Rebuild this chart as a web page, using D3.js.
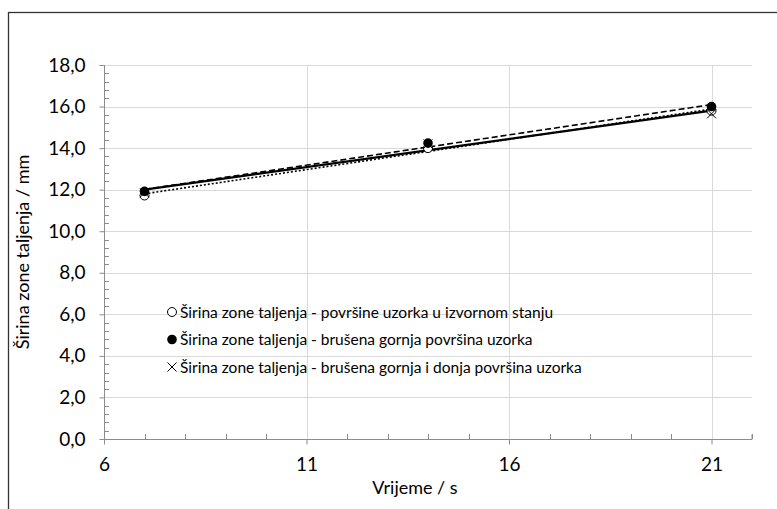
<!DOCTYPE html>
<html>
<head>
<meta charset="utf-8">
<script src="https://cdn.jsdelivr.net/npm/d3@7"></script>
<style>
  body { margin: 0; background: #fff; }
  text { font-family: Lato, "Open Sans", sans-serif; fill: #000; }
</style>
</head>
<body>
<div id="container"></div>
<script>
/* CONSTANTS AND GLOBALS */
const width = 777;
const height = 509;

/* DATA */
const times = [7, 14, 21];
const seriesNames = [
  "Širina zone taljenja - površine uzorka u izvornom stanju",
  "Širina zone taljenja - brušena gornja površina uzorka",
  "Širina zone taljenja - brušena gornja i donja površina uzorka"
];
const openVals = [11.72, 14.0, 15.8];
const filledVals = [11.92, 14.24, 16.0];
const crossVals = [11.85, 14.2, 15.65];
const xTicks = [6, 11, 16, 21];
const yTicks = [0, 2, 4, 6, 8, 10, 12, 14, 16, 18];

const series = [
  { name: seriesNames[0], values: openVals, marker: "open", trend: "2,2" },
  { name: seriesNames[1], values: filledVals, marker: "filled", trend: "6,3" },
  { name: seriesNames[2], values: crossVals, marker: "cross", trend: null }
];

/* SVG */
const svg = d3.select("#container")
  .append("svg")
  .attr("width", width)
  .attr("height", height);

// outer frame
svg.append("rect")
  .attr("x", 8.5).attr("y", 12.5)
  .attr("width", width + 10).attr("height", height + 10)
  .attr("fill", "none").attr("stroke", "#333").attr("stroke-width", 1.3);

/* SCALES */
const xScale = d3.scaleLinear().domain([6, 22]).range([104, 752]);
const yScale = d3.scaleLinear().domain([0, 18]).range([439, 65]);

// gridlines
svg.append("g").selectAll("line.hg")
  .data(yTicks.filter(d => d > 0))
  .join("line")
  .attr("x1", xScale(6)).attr("x2", xScale(22))
  .attr("y1", d => Math.round(yScale(d)) + 0.5).attr("y2", d => Math.round(yScale(d)) + 0.5)
  .attr("stroke", "#d9d9d9");

svg.append("g").selectAll("line.vg")
  .data(xTicks.filter(d => d > 6))
  .join("line")
  .attr("x1", d => Math.round(xScale(d)) + 0.5).attr("x2", d => Math.round(xScale(d)) + 0.5)
  .attr("y1", yScale(0)).attr("y2", yScale(18))
  .attr("stroke", "#d9d9d9");

/* AXES */
const axisColor = "#8c8c8c";

// minor ticks
const yMinor = d3.range(0, 18.01, 0.4).filter(d => Math.abs(d / 2 - Math.round(d / 2)) > 0.01);
svg.append("g").selectAll("line")
  .data(yMinor)
  .join("line")
  .attr("x1", xScale(6)).attr("x2", xScale(6) + 5)
  .attr("y1", d => Math.round(yScale(d)) + 0.5).attr("y2", d => Math.round(yScale(d)) + 0.5)
  .attr("stroke", axisColor);

const xMinor = d3.range(7, 22.01, 1).filter(d => !xTicks.includes(d));
svg.append("g").selectAll("line")
  .data(xMinor)
  .join("line")
  .attr("x1", d => Math.round(xScale(d)) + 0.5).attr("x2", d => Math.round(xScale(d)) + 0.5)
  .attr("y1", yScale(0)).attr("y2", yScale(0) - 5)
  .attr("stroke", axisColor);

const yAxis = d3.axisLeft(yScale)
  .tickValues(yTicks)
  .tickSize(5)
  .tickPadding(14)
  .tickFormat(d => d3.format(".1f")(d).replace(".", ","));

const yG = svg.append("g")
  .attr("transform", `translate(${Math.round(xScale(6)) + 0.5},0)`)
  .call(yAxis);
yG.select(".domain").attr("stroke", axisColor).attr("d", `M0,${yScale(0)}V${yScale(18)}`);
yG.selectAll(".tick line").attr("stroke", axisColor);
yG.selectAll(".tick text").style("font-size", "19px").attr("fill", "#000");

const xAxis = d3.axisBottom(xScale)
  .tickValues(xTicks)
  .tickSize(5)
  .tickPadding(13);

const xG = svg.append("g")
  .attr("transform", `translate(0,${Math.round(yScale(0)) + 0.5})`)
  .call(xAxis);
xG.select(".domain").attr("stroke", axisColor).attr("d", `M${xScale(6)},0H${xScale(22)}V-5`);
xG.selectAll(".tick line").attr("stroke", axisColor);
xG.selectAll(".tick text").style("font-size", "19px").attr("fill", "#000");

// axis titles
svg.append("text")
  .attr("x", 415).attr("y", 494)
  .attr("text-anchor", "middle")
  .style("font-size", "18px")
  .text("Vrijeme / s");

svg.append("text")
  .attr("transform", `translate(29,252) rotate(-90)`)
  .attr("text-anchor", "middle")
  .style("font-size", "18px")
  .text("Širina zone taljenja / mm");

/* TRENDLINES (linear fit) */
function fit(xs, ys) {
  const mx = d3.mean(xs), my = d3.mean(ys);
  const b = d3.sum(xs, (x, i) => (x - mx) * (ys[i] - my)) / d3.sum(xs, x => (x - mx) ** 2);
  return x => my + b * (x - mx);
}

series.forEach(s => {
  const f = fit(times, s.values);
  const x0 = d3.min(times), x1 = d3.max(times);
  svg.append("line")
    .attr("x1", xScale(x0)).attr("y1", yScale(f(x0)))
    .attr("x2", xScale(x1)).attr("y2", yScale(f(x1)))
    .attr("stroke", "#000")
    .attr("stroke-width", s.trend ? 1.6 : 2.2)
    .attr("stroke-dasharray", s.trend);
});

/* MARKERS */
function drawMarker(g, type, x, y) {
  if (type === "open") {
    g.append("circle").attr("cx", x).attr("cy", y).attr("r", 4.5)
      .attr("fill", "#fff").attr("stroke", "#000").attr("stroke-width", 1);
  } else if (type === "filled") {
    g.append("circle").attr("cx", x).attr("cy", y).attr("r", 4.8)
      .attr("fill", "#000");
  } else {
    const r = 4.5;
    g.append("path")
      .attr("d", `M${x - r},${y - r}L${x + r},${y + r}M${x - r},${y + r}L${x + r},${y - r}`)
      .attr("stroke", "#000").attr("stroke-width", 1);
  }
}

const markG = svg.append("g");
[series[0], series[2], series[1]].forEach(s => {
  s.values.forEach((v, i) => drawMarker(markG, s.marker, xScale(times[i]), yScale(v)));
});

/* LEGEND */
const legend = svg.append("g");
series.forEach((s, i) => {
  const y = 312 + i * 27.5;
  drawMarker(legend, s.marker, 172, y);
  legend.append("text")
    .attr("x", 180).attr("y", y + 5.5)
    .style("font-size", "15.5px")
    .text(s.name);
});
</script>
</body>
</html>
